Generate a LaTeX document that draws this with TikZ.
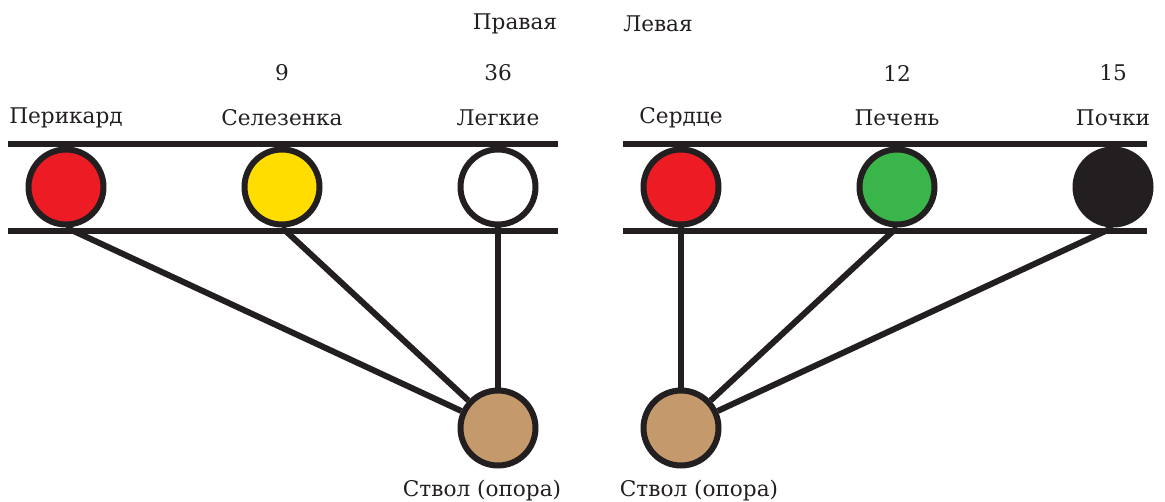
\documentclass[tikz,border=0pt]{standalone}
\usepackage{fontspec}
\setmainfont{DejaVu Serif}
\definecolor{ink}{HTML}{231F20}
\definecolor{organred}{HTML}{ED1C24}
\definecolor{organyellow}{HTML}{FFDD00}
\definecolor{organgreen}{HTML}{39B54A}
\definecolor{trunkbrown}{HTML}{C49A6C}
\tikzset{
    organ/.style={circle, draw=ink, line width=0.12cm, minimum size=1.5cm, inner sep=0pt},
    rail/.style={draw=ink, line width=0.12cm},
    link/.style={draw=ink, line width=0.12cm},
    lbl/.style={font=\fontsize{12.3}{14}\selectfont, text=ink, inner sep=0pt}
}
\begin{document}
\begin{tikzpicture}[x=0.02cm, y=-0.02cm]
    \useasboundingbox (0,0) rectangle (1165,501);
    % rails
    \draw[rail] (8,144) -- (558,144);
    \draw[rail] (8,231) -- (558,231);
    \draw[rail] (623,144) -- (1147,144);
    \draw[rail] (623,231) -- (1147,231);
    % organs
    \node[organ, fill=organred] (peri) at (66,187) {};
    \node[organ, fill=organyellow] (spleen) at (282,187) {};
    \node[organ, fill=white] (lungs) at (498,187) {};
    \node[organ, fill=organred] (heart) at (681,187) {};
    \node[organ, fill=organgreen] (liver) at (897,187) {};
    \node[organ, fill=ink] (kidney) at (1113,187) {};
    \node[organ, fill=trunkbrown] (trunkL) at (498,428) {};
    \node[organ, fill=trunkbrown] (trunkR) at (681,428) {};
    % links
    \draw[link] (peri.south) -- (trunkL);
    \draw[link] (spleen.south) -- (trunkL);
    \draw[link] (lungs.south) -- (trunkL);
    \draw[link] (heart.south) -- (trunkR);
    \draw[link] (liver.south) -- (trunkR);
    \draw[link] (kidney.south) -- (trunkR);
    % labels
    \node[lbl] (tPeri) at (66,118) {Перикард};
    \node[lbl] (tSpleen) at (282,118) {Селезенка};
    \node[lbl] (tLungs) at (498,118) {Легкие};
    \node[lbl] (tHeart) at (681,118) {Сердце};
    \node[lbl] (tLiver) at (897,118) {Печень};
    \node[lbl] (tKidney) at (1113,118) {Почки};
    \node[lbl] (nSpleen) at (282,73) {9};
    \node[lbl] (nLungs) at (498,73) {36};
    \node[lbl] (nLiver) at (897,73) {12};
    \node[lbl] (nKidney) at (1113,73) {15};
    \node[lbl] (right) at (515,24) {Правая};
    \node[lbl] (left) at (658,24) {Левая};
    \node[lbl] (tTrunkL) at (482,491) {Ствол (опора)};
    \node[lbl] (tTrunkR) at (699,491) {Ствол (опора)};
\end{tikzpicture}
\end{document}
